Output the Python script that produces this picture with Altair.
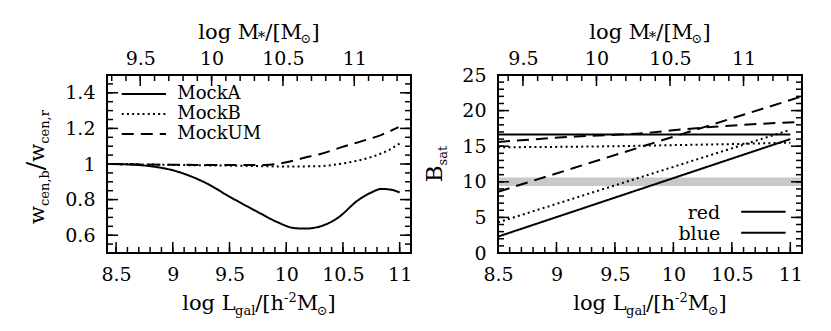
import altair as alt
import pandas as pd

# ---------------- data ----------------
# Left panel: w_cen,b / w_cen,r versus log L_gal
mockA_L = [8.45, 8.60, 8.77, 9.01, 9.28, 9.51, 9.75, 9.92, 10.07, 10.16, 10.28, 10.46, 10.63, 10.75, 10.84, 10.93, 11.00]
mockA_w = [1.000, 0.998, 0.990, 0.963, 0.897, 0.813, 0.730, 0.674, 0.640, 0.637, 0.646, 0.700, 0.795, 0.840, 0.860, 0.855, 0.840]
mockB_L = [8.45, 8.80, 9.20, 9.60, 10.00, 10.30, 10.45, 10.60, 10.75, 10.90, 11.00]
mockB_w = [1.000, 0.997, 0.993, 0.990, 0.986, 0.988, 0.998, 1.015, 1.039, 1.077, 1.115]
mockUM_L = [8.45, 8.80, 9.20, 9.60, 9.81, 10.01, 10.16, 10.31, 10.49, 10.66, 10.84, 10.99]
mockUM_w = [1.000, 0.997, 0.995, 0.995, 0.995, 1.011, 1.035, 1.058, 1.095, 1.127, 1.164, 1.207]
mock_names = ["MockA", "MockB", "MockUM"]

# Right panel: B_sat versus log L_gal
red_solid_L = [8.5, 11.0]
red_solid_B = [2.3, 16.0]
red_dot_L = [8.5, 11.0]
red_dot_B = [4.3, 17.3]
red_dash_L = [8.5, 11.1]
red_dash_B = [8.6, 22.0]
blue_solid_L = [8.5, 11.0]
blue_solid_B = [16.65, 16.65]
blue_dash_L = [8.5, 9.17, 9.74, 10.17, 10.59, 11.1]
blue_dash_B = [15.6, 16.36, 16.83, 17.5, 18.0, 18.4]
blue_dot_L = [8.5, 9.5, 10.0, 10.5, 11.0]
blue_dot_B = [14.85, 15.0, 15.15, 15.3, 15.5]
band_L = [8.5, 11.1]
band_B = [9.4, 10.6]
colour_names = ["red", "blue"]

# tick values
L_major = [8.5, 9.0, 9.5, 10.0, 10.5, 11.0]
L_minor = [round(8.5 + 0.1 * i, 2) for i in range(26)]
wy_major = [0.6, 0.8, 1.0, 1.2, 1.4]
wy_minor = [round(0.55 + 0.05 * i, 2) for i in range(19)]
By_labels = [0, 5, 10, 15, 20, 25]
By_major = [5, 10, 15, 20]
By_minor = list(range(1, 25))
M_major = [9.5, 10.0, 10.5, 11.0]
M_minor = [round(9.3 + 0.1 * i, 2) for i in range(21)]

# ---------------- layout / style ----------------
FONT = "DejaVu Serif"
W, H = 304, 178          # size of each panel's plot area
GAP = 87                 # gap between the two frames
X0R = W + GAP            # left edge of the right panel
TW = X0R + W             # total plotting width
MAJ, MIN = 11, 6         # inward tick lengths (pixels)
L_dom_left = [8.42, 11.1]
L_dom_right = [8.5, 11.1]
w_dom = [0.5, 1.5]
B_dom = [0, 25]
M_SLOPE, L_AT_M11 = 0.795, 10.6   # top axis: log M* = 11 + 0.795 (log L - 10.6)


def M_to_L(m):
    return L_AT_M11 + (m - 11.0) / M_SLOPE


M_LABEL_EXPR = f"format(round((11 + (datum.value - {L_AT_M11}) * {M_SLOPE}) * 10) / 10, '~g')"


def xsc(dom, x0):
    return alt.Scale(domain=dom, range=[x0, x0 + W], nice=False, zero=False)


def ysc(dom):
    return alt.Scale(domain=dom, range=[H, 0], nice=False, zero=False)


def label_axis(ch, scale, values, orient, pad, off=0, expr=None):
    kw = dict(labelExpr=expr) if expr else dict(format="~g")
    ax = alt.Axis(orient=orient, values=values, ticks=False, domain=False, grid=False,
                  title=None, labelFont=FONT, labelFontSize=19, labelColor="black",
                  labelPadding=pad, labelFlush=False, labelOverlap=False, offset=-off, **kw)
    df = pd.DataFrame({"v": values})
    if ch == "x":
        enc = dict(x=alt.X("v:Q", scale=scale, axis=ax), y=alt.value(0))
    else:
        enc = dict(y=alt.Y("v:Q", scale=scale, axis=ax), x=alt.value(0))
    return alt.Chart(df).mark_point(opacity=0).encode(**enc)


WID = {"l": .32, "o": .602, "g": .64, " ": .318, "L": .637, "M": .95, "a": .596, "/": .337,
       "[": .39, "]": .39, "h": .644, "-": .338, "2": .636, "⊙": .84, "w": .856, "c": .56,
       "e": .592, "n": .644, ",": .318, "b": .64, "r": .478, "B": .733, "s": .513, "t": .402,
       "*": .5}

_anchor = pd.DataFrame({"k": [0]})


def rich_title(pieces, cx, cy, rotate=False):
    widths = [sum(WID.get(ch, .6) for ch in t) * fs for t, fs, _ in pieces]
    pos = -sum(widths) / 2
    out = []
    for (t, fs, sh), wd in zip(pieces, widths):
        if rotate:
            px, py = cx + sh, cy - pos
        else:
            px, py = cx + pos, cy + sh
        mk = dict(align="left", baseline="alphabetic", font=FONT, color="black",
                  fontSize=fs, text=t)
        if rotate:
            mk["angle"] = 270
        out.append(alt.Chart(_anchor).mark_text(**mk).encode(x=alt.value(px), y=alt.value(py)))
        pos += wd
    return out


BIG, SMALL = 21, 13
bottom_title = [("log L", BIG, 0), ("gal", SMALL, 5), ("/[h", BIG, 0), ("-2", SMALL, -8),
                ("M", BIG, 0), ("⊙", SMALL, 5), ("]", BIG, 0)]
top_title = [("log M", BIG, 0), ("*", SMALL + 2, 3), ("/[M", BIG, 0), ("⊙", SMALL, 4), ("]", BIG, 0)]
w_title = [("w", BIG, 0), ("cen,b", SMALL, 5), ("/", BIG + 4, 0), ("w", BIG, 0), ("cen,r", SMALL, 5)]
B_title = [("B", BIG + 2, 0), ("sat", SMALL, 5)]


def frame_layers(L_dom, x0, y_dom, y_labels, y_major, y_minor):
    xs, ys = xsc(L_dom, x0), ysc(y_dom)
    inside = lambda vals: [v for v in vals if L_dom[0] < v < L_dom[1]]
    Mmaj = inside([M_to_L(m) for m in M_major])
    Mmin = inside([M_to_L(m) for m in M_minor])
    dy = (y_dom[1] - y_dom[0]) / H     # data units per pixel, vertical
    dx = (L_dom[1] - L_dom[0]) / W     # data units per pixel, horizontal
    # vertical tick segments (bottom: log L ticks, top: log M* ticks)
    vt = []
    for vals, n in ((inside(L_major), MAJ), (inside(L_minor), MIN)):
        vt += [{"a": v, "b0": y_dom[0], "b1": y_dom[0] + n * dy, "k": "t"} for v in vals]
    for vals, n in ((Mmaj, MAJ), (Mmin, MIN)):
        vt += [{"a": v, "b0": y_dom[1] - n * dy, "b1": y_dom[1], "k": "t"} for v in vals]
    # horizontal tick segments (left and right sides)
    ht = []
    for vals, n in ((y_major, MAJ), (y_minor, MIN)):
        ht += [{"a0": L_dom[0], "a1": L_dom[0] + n * dx, "b": v, "k": "t"} for v in vals]
        ht += [{"a0": L_dom[1] - n * dx, "a1": L_dom[1], "b": v, "k": "t"} for v in vals]
    vticks = alt.Chart(pd.DataFrame(vt)).mark_rule(strokeWidth=1.5).encode(
        x=alt.X("a:Q", scale=xs, axis=None),
        y=alt.Y("b0:Q", scale=ys, axis=None), y2="b1:Q",
        color=alt.Color("k:N", scale=alt.Scale(domain=["t"], range=["black"]), legend=None))
    hticks = alt.Chart(pd.DataFrame(ht)).mark_rule(strokeWidth=1.5).encode(
        x=alt.X("a0:Q", scale=xs, axis=None), x2="a1:Q",
        y=alt.Y("b:Q", scale=ys, axis=None),
        color=alt.Color("k:N", scale=alt.Scale(domain=["t"], range=["black"]), legend=None))
    frame = alt.Chart(pd.DataFrame({"x0": [L_dom[0]], "x1": [L_dom[1]],
                                    "y0": [y_dom[0]], "y1": [y_dom[1]]})).mark_rect(
        fillOpacity=0, stroke="black", strokeWidth=2).encode(
        x=alt.X("x0:Q", scale=xs, axis=None), x2="x1:Q",
        y=alt.Y("y0:Q", scale=ys, axis=None), y2="y1:Q")
    return [
        label_axis("x", xs, L_major, "bottom", pad=12),
        label_axis("x", xs, Mmaj, "top", pad=7, expr=M_LABEL_EXPR),
        label_axis("y", ys, y_labels, "left", pad=12, off=x0),
        frame,
        vticks,
        hticks,
    ]


# ---------------- left panel ----------------
dfA = pd.DataFrame({"L": mockA_L, "w": mockA_w, "m": "MockA"})
dfB = pd.DataFrame({"L": mockB_L, "w": mockB_w, "m": "MockB"})
dfU = pd.DataFrame({"L": mockUM_L, "w": mockUM_w, "m": "MockUM"})
df_left = pd.concat([dfA, dfB, dfU], ignore_index=True)
dash_left = alt.Scale(domain=mock_names, range=[[1, 0], [2, 3.2], [12, 7]])

xl = lambda f: alt.X(f, scale=xsc(L_dom_left, 0), axis=None)
yl = lambda f: alt.Y(f, scale=ysc(w_dom), axis=None)

left_lines = alt.Chart(df_left).mark_line(color="black", strokeWidth=2,
                                          interpolate="monotone").encode(
    x=xl("L:Q"), y=yl("w:Q"),
    strokeDash=alt.StrokeDash("m:N", scale=dash_left, legend=None),
)
leg_left = pd.DataFrame({"m": mock_names, "x0": [8.55] * 3, "x1": [8.94] * 3,
                         "xt": [9.04] * 3, "y": [1.393, 1.281, 1.169]})
left_leg_lines = alt.Chart(leg_left).mark_rule(color="black", strokeWidth=2).encode(
    x=xl("x0:Q"), x2="x1:Q", y=yl("y:Q"),
    strokeDash=alt.StrokeDash("m:N", scale=dash_left, legend=None),
)
left_leg_text = alt.Chart(leg_left).mark_text(align="left", baseline="middle", font=FONT,
                                              fontSize=18, color="black").encode(
    x=xl("xt:Q"), y=yl("y:Q"), text="m:N")

# ---------------- right panel ----------------
parts = [
    (red_solid_L, red_solid_B, "red", "solid"), (red_dot_L, red_dot_B, "red", "dotted"),
    (red_dash_L, red_dash_B, "red", "dashed"), (blue_solid_L, blue_solid_B, "blue", "solid"),
    (blue_dash_L, blue_dash_B, "blue", "dashed"), (blue_dot_L, blue_dot_B, "blue", "dotted"),
]
df_right = pd.concat([pd.DataFrame({"L": a, "B": b, "c": c, "s": s}) for a, b, c, s in parts],
                     ignore_index=True)
col_scale = alt.Scale(domain=colour_names, range=["#ff0000", "#0000ff"])
dash_right = alt.Scale(domain=["solid", "dotted", "dashed"], range=[[1, 0], [2.5, 4.3], [16, 8]])

xr = lambda f: alt.X(f, scale=xsc(L_dom_right, X0R), axis=None)
yr = lambda f: alt.Y(f, scale=ysc(B_dom), axis=None)

band = alt.Chart(pd.DataFrame({"x0": [band_L[0]], "x1": [band_L[1]],
                               "y0": [band_B[0]], "y1": [band_B[1]]})).mark_rect(
    color="#c8c8c8").encode(x=xr("x0:Q"), x2="x1:Q", y=yr("y0:Q"), y2="y1:Q")
right_lines = alt.Chart(df_right).mark_line(strokeWidth=2, interpolate="monotone").encode(
    x=xr("L:Q"), y=yr("B:Q"),
    color=alt.Color("c:N", scale=col_scale, legend=None),
    strokeDash=alt.StrokeDash("s:N", scale=dash_right, legend=None),
)
leg_right = pd.DataFrame({"c": colour_names, "x0": [10.58] * 2, "x1": [10.96] * 2,
                          "xt": [10.40] * 2, "y": [5.78, 2.84], "yt": [5.64, 2.70]})
right_leg_lines = alt.Chart(leg_right).mark_rule(strokeWidth=2).encode(
    x=xr("x0:Q"), x2="x1:Q", y=yr("y:Q"),
    color=alt.Color("c:N", scale=col_scale, legend=None))
right_leg_text = alt.Chart(leg_right).mark_text(align="right", baseline="middle", font=FONT,
                                                fontSize=19, color="black").encode(
    x=xr("xt:Q"), y=yr("yt:Q"), text="c:N")

chart = alt.layer(
    left_lines, left_leg_lines, left_leg_text,
    *frame_layers(L_dom_left, 0, w_dom, wy_major, wy_major, wy_minor),
    *rich_title(bottom_title, W / 2, H + 57),
    *rich_title(top_title, W / 2, -36),
    *rich_title(w_title, -63, H / 2 + 3, rotate=True),
    band, right_lines, right_leg_lines, right_leg_text,
    *frame_layers(L_dom_right, X0R, B_dom, By_labels, By_major, By_minor),
    *rich_title(bottom_title, X0R + W / 2, H + 57),
    *rich_title(top_title, X0R + W / 2, -36),
    *rich_title(B_title, X0R - 56, H / 2, rotate=True),
).resolve_scale(x="independent", y="independent").properties(
    width=TW, height=H,
    padding={"left": 15, "top": 14, "right": 5, "bottom": 5},
    background="white",
).configure_view(strokeWidth=0)

chart.save("out.html", embed_options={"renderer": "svg", "actions": False})
